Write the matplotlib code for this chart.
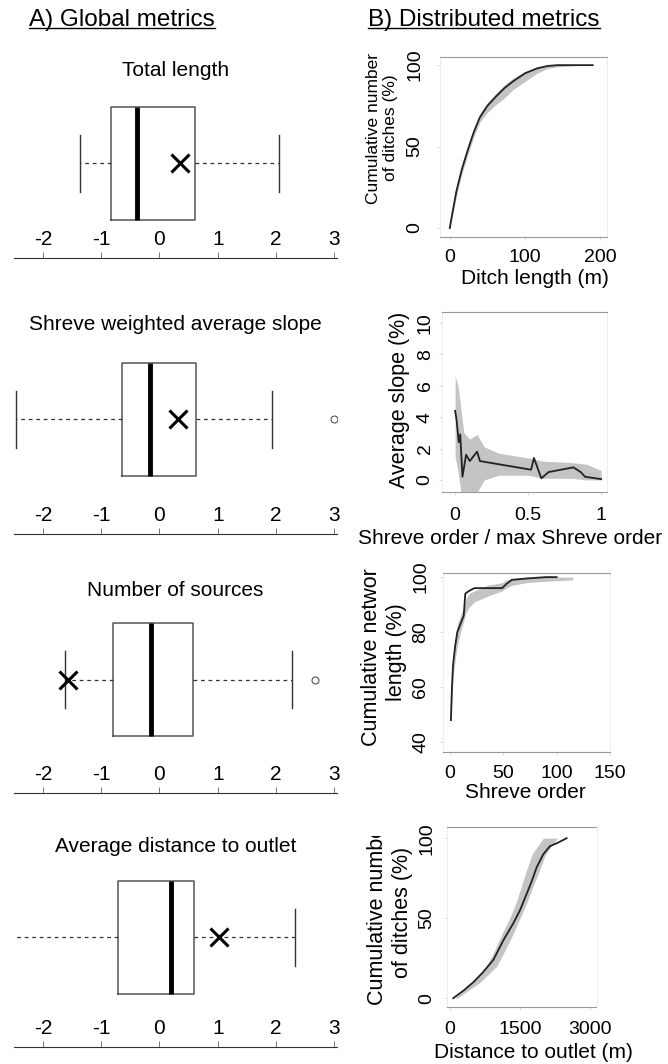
import numpy as np
import matplotlib.pyplot as plt
from matplotlib.transforms import Bbox
from matplotlib.lines import Line2D

plt.rcParams['font.family'] = ['Liberation Sans', 'DejaVu Sans']

W, H = 668, 1064

# A) global metrics, standardised values
box_titles = ["Total length", "Shreve weighted average slope",
              "Number of sources", "Average distance to outlet"]
q1 = [-0.84, -0.64, -0.80, -0.72]
med = [-0.38, -0.17, -0.14, 0.20]
q3 = [0.61, 0.62, 0.57, 0.60]
whis_lo = [-1.36, -2.47, -1.63, -2.70]
whis_hi = [2.06, 1.94, 2.27, 2.32]
means = [0.36, 0.31, -1.58, 1.02]
fliers = [[], [3.0], [2.68], []]
box_ticks = [-2, -1, 0, 1, 2, 3]

# B) distributed metrics
len_x = [0, 3, 9, 16, 24, 32, 40, 50, 62, 73, 84, 100, 116, 130, 143, 160, 175, 190]
len_y = [0, 8, 23, 36, 48, 59, 68, 75, 81, 86, 90, 95, 98, 99.5, 100, 100, 100, 100]
len_lo = [0, 6, 20, 33, 45, 56, 65, 71, 76, 80, 85, 90, 95, 98, 99, 99.5, 100, 100]
len_hi = [1, 9, 25, 38, 50, 61, 70, 77, 83, 88, 92, 96, 99, 100, 100, 100, 100, 100]

slope_x = [0, 0.01, 0.025, 0.035, 0.05, 0.075, 0.1, 0.15, 0.17, 0.52, 0.54, 0.59, 0.64, 0.81, 0.86, 0.89, 1.0]
slope_y = [4.4, 3.8, 2.4, 2.9, 0.2, 1.6, 1.2, 1.8, 1.2, 0.65, 1.4, 0.1, 0.5, 0.8, 0.5, 0.2, 0.05]
slope_band_x = [0, 0.02, 0.04, 0.06, 0.1, 0.15, 0.2, 0.3, 0.5, 0.6, 0.8, 0.9, 1.0]
slope_lo = [1.5, 0.5, -0.8, -0.8, -0.8, -0.8, 0.0, 0.3, 0.3, 0.1, 0.1, 0.0, 0.0]
slope_hi = [6.6, 6.0, 4.5, 3.0, 2.6, 2.9, 2.1, 1.7, 1.4, 1.2, 1.1, 1.0, 0.6]

netw_x = [1, 2, 3, 5, 7, 10, 13, 14.5, 18, 23, 35, 49, 53, 58, 72, 90, 100]
netw_y = [48, 60, 68, 75, 80, 83, 86, 94, 95, 96, 96, 96, 97.5, 99, 99.5, 100, 100]
netw_band_x = [1, 2, 3, 5, 7, 10, 13, 15, 18, 23, 35, 49, 53, 58, 72, 90, 115]
netw_lo = [45, 56, 63, 70, 75, 80, 84, 87, 89, 91, 93, 95, 96, 97, 98, 98.5, 99]
netw_hi = [50, 62, 70, 78, 83, 86, 89, 92, 94, 95, 97, 98, 99, 99.5, 100, 100, 100]

dist_x = [70, 300, 500, 700, 930, 1140, 1360, 1500, 1640, 1750, 1860, 2000, 2140, 2300, 2500]
dist_y = [0, 5, 10, 16, 24, 36, 47, 55, 65, 73, 82, 90, 95, 97, 100]
dist_band_y = [0, 10, 20, 30, 40, 50, 60, 70, 80, 90, 100]
dist_band_left = [100, 500, 780, 960, 1110, 1280, 1420, 1530, 1640, 1760, 2000]
dist_band_right = [150, 650, 1000, 1180, 1350, 1500, 1650, 1780, 1920, 2050, 2300]

fig = plt.figure(figsize=(W / 100, H / 100), dpi=100)


def rect(l, t, r, b):
    return [l / W, 1 - b / H, (r - l) / W, (b - t) / H]


def fx(x):
    return x / W


def fy(y):
    return 1 - y / H


# headers
headers = []
headers.append(fig.text(fx(29), fy(20), "A) Global metrics", fontsize=17.5, va='center'))
headers.append(fig.text(fx(368), fy(20), "B) Distributed metrics", fontsize=17.5, va='center'))

# left column: boxplots
axis_line = [258, 534, 793, 1047]
title_y = [70, 325, 590, 847]
box_pos = [94.5, 114.5, 113.5, 110]
for i in range(4):
    ax = fig.add_axes(rect(14, axis_line[i] - 200, 337, axis_line[i]))
    stats = [dict(q1=q1[i], med=med[i], q3=q3[i], whislo=whis_lo[i], whishi=whis_hi[i],
                  mean=means[i], fliers=fliers[i])]
    ax.bxp(stats, positions=[box_pos[i]], widths=[113], capwidths=[57],
           orientation='horizontal', showmeans=True,
           boxprops=dict(color='#555555', lw=1.1),
           medianprops=dict(color='black', lw=3.5, solid_capstyle='butt'),
           whiskerprops=dict(color='#333333', lw=0.9, ls=(0, (3, 3))),
           capprops=dict(color='#333333', lw=1.0),
           flierprops=dict(marker='o', mfc='none', mec='#555555', ms=5, mew=0.8),
           meanprops=dict(marker='x', mec='black', ms=13, mew=2.2))
    ax.set_xlim(-2.5, 3.05)
    ax.set_ylim(0, 200)
    for s in ['top', 'left', 'right']:
        ax.spines[s].set_visible(False)
    ax.spines['bottom'].set_color('#333333')
    ax.set_yticks([])
    ax.set_xticks(box_ticks)
    ax.set_xticklabels([str(t) for t in box_ticks])
    ax.tick_params(axis='x', direction='in', length=4, width=0.7, color='#777777',
                   pad=-20, labelsize=15)
    fig.text(fx(175.5), fy(title_y[i]), box_titles[i], fontsize=15, ha='center', va='center')

# right column: distributed metrics
right_rects = [(440, 57, 607, 237), (442, 312, 607, 492), (443, 573, 610, 752), (447, 827, 597, 1007)]
xlims = [(-13, 209), (-0.09, 1.04), (-6.4, 145.5), (-64, 3150)]
ylims = [(-5.5, 105), (-0.77, 10.7), (36.4, 101.5), (-5.5, 107)]
xticks = [[0, 100, 200], [0, 0.5, 1], [0, 50, 100, 150], [0, 1500, 3000]]
xticklabels = [["0", "100", "200"], ["0", "0.5", "1"], ["0", "50", "100", "150"], ["0", "1500", "3000"]]
yticks = [[0, 50, 100], [0, 2, 4, 6, 8, 10], [40, 60, 80, 100], [0, 50, 100]]
xlabels = ["Ditch length (m)", "Shreve order / max Shreve order", "Shreve order", "Distance to outlet (m)"]
xlabel_pos = [(535, 278), (510, 538), (525, 792), (533, 1052)]
ylabels = ["Cumulative number\nof ditches (%)", "Average slope (%)",
           "Cumulative network\nlength (%)", "Cumulative number\nof ditches (%)"]
ylabel_pos = [(382, 128), (400, 400), (384, 652), (390, 912)]
ylabel_size = [12.5, 15.5, 15.5, 15.5]
ylabel_clip_top = [0, 0, 568, 836]
xpad = [7, 9, 7, 8]
ypad = [10, 4, 8, 6.5]

band_color = '#c4c4c4'
axes_r = []
for i in range(4):
    ax = fig.add_axes(rect(*right_rects[i]))
    axes_r.append(ax)
    ax.set_xlim(*xlims[i])
    ax.set_ylim(*ylims[i])
    ax.set_xticks(xticks[i])
    ax.set_xticklabels(xticklabels[i])
    ax.set_yticks(yticks[i])
    ax.set_yticklabels([str(t) for t in yticks[i]], rotation=90, va='center')
    ax.tick_params(length=2, width=0.5, color='#cccccc', labelsize=14)
    ax.tick_params(axis='x', pad=xpad[i])
    ax.tick_params(axis='y', pad=ypad[i])
    for s in ['top', 'bottom']:
        ax.spines[s].set_color('#999999')
        ax.spines[s].set_linewidth(0.8)
        ax.spines[s].set_linestyle((0, (2, 1)))
    for s in ['left', 'right']:
        ax.spines[s].set_color('#e6e6e6')
        ax.spines[s].set_linewidth(0.5)
    fig.text(fx(xlabel_pos[i][0]), fy(xlabel_pos[i][1]), xlabels[i], fontsize=15,
             ha='center', va='center')
    t = fig.text(fx(ylabel_pos[i][0]), fy(ylabel_pos[i][1]), ylabels[i], fontsize=ylabel_size[i],
                 rotation=90, ha='center', va='center', multialignment='center', linespacing=1.2)
    if ylabel_clip_top[i]:
        t.set_clip_box(Bbox([[0, 0], [W, H - ylabel_clip_top[i]]]))
        t.set_clip_on(True)

ax = axes_r[0]
ax.fill_between(len_x, len_lo, len_hi, color=band_color, lw=0)
ax.plot(len_x, len_y, color='#222222', lw=1.3)

ax = axes_r[1]
ax.fill_between(slope_band_x, slope_lo, slope_hi, color=band_color, lw=0)
ax.plot(slope_x, slope_y, color='#222222', lw=1.3)

ax = axes_r[2]
ax.fill_between(netw_band_x, netw_lo, netw_hi, color=band_color, lw=0)
ax.plot(netw_x, netw_y, color='#222222', lw=1.3)

ax = axes_r[3]
ax.fill_betweenx(dist_band_y, dist_band_left, dist_band_right, color=band_color, lw=0)
ax.plot(dist_x, dist_y, color='#222222', lw=1.3)

# underline the two column headers
fig.canvas.draw()
inv = fig.transFigure.inverted()
for t in headers:
    bb = t.get_window_extent()
    (x0, y0), (x1, _) = inv.transform([[bb.x0, bb.y0 + 3], [bb.x1, bb.y0 + 3]])
    fig.add_artist(Line2D([x0, x1], [y0, y0], color='black', lw=1.0))

fig.savefig('out.png', dpi=100)
